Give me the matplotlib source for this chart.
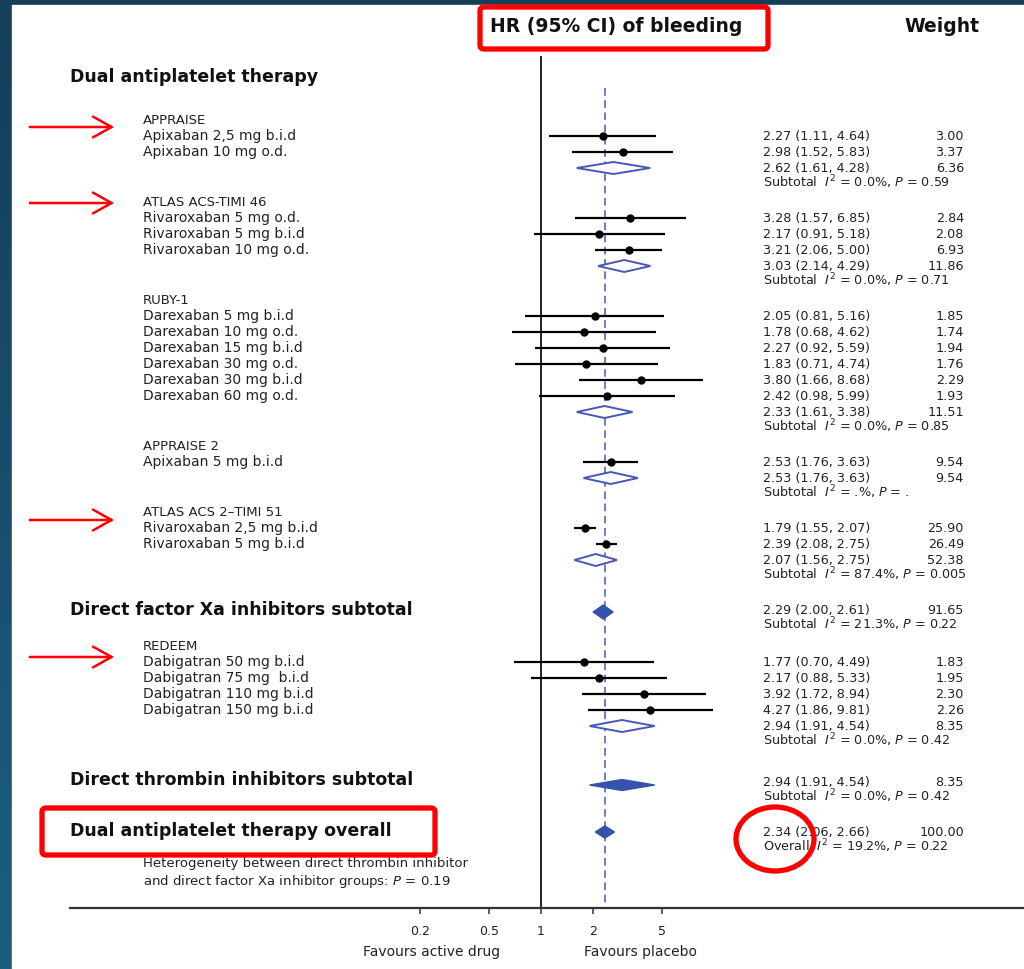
import matplotlib.pyplot as plt
from matplotlib.patches import Rectangle, FancyBboxPatch, Ellipse, FancyArrowPatch, Polygon
from matplotlib.transforms import blended_transform_factory
from matplotlib.ticker import NullLocator, FixedLocator, FixedFormatter
import numpy as np

plt.rcParams['font.family'] = ['DejaVu Sans']

# ---- data: hazard ratios of bleeding (HR, 95% CI) and weights ----
appraise_arms = ['Apixaban 2,5 mg b.i.d', 'Apixaban 10 mg o.d.']
appraise_hr = [2.27, 2.98]
appraise_lo = [1.11, 1.52]
appraise_hi = [4.64, 5.83]
appraise_wt = [3.00, 3.37]
appraise_pool = [2.62, 1.61, 4.28, 6.36]
appraise_het = ['0.0%', '0.59']

atlas46_arms = ['Rivaroxaban 5 mg o.d.', 'Rivaroxaban 5 mg b.i.d', 'Rivaroxaban 10 mg o.d.']
atlas46_hr = [3.28, 2.17, 3.21]
atlas46_lo = [1.57, 0.91, 2.06]
atlas46_hi = [6.85, 5.18, 5.00]
atlas46_wt = [2.84, 2.08, 6.93]
atlas46_pool = [3.03, 2.14, 4.29, 11.86]
atlas46_het = ['0.0%', '0.71']

ruby_arms = ['Darexaban 5 mg b.i.d', 'Darexaban 10 mg o.d.', 'Darexaban 15 mg b.i.d',
             'Darexaban 30 mg o.d.', 'Darexaban 30 mg b.i.d', 'Darexaban 60 mg o.d.']
ruby_hr = [2.05, 1.78, 2.27, 1.83, 3.80, 2.42]
ruby_lo = [0.81, 0.68, 0.92, 0.71, 1.66, 0.98]
ruby_hi = [5.16, 4.62, 5.59, 4.74, 8.68, 5.99]
ruby_wt = [1.85, 1.74, 1.94, 1.76, 2.29, 1.93]
ruby_pool = [2.33, 1.61, 3.38, 11.51]
ruby_het = ['0.0%', '0.85']

appraise2_arms = ['Apixaban 5 mg b.i.d']
appraise2_hr = [2.53]
appraise2_lo = [1.76]
appraise2_hi = [3.63]
appraise2_wt = [9.54]
appraise2_pool = [2.53, 1.76, 3.63, 9.54]
appraise2_het = ['.%', '.']

atlas51_arms = ['Rivaroxaban 2,5 mg b.i.d', 'Rivaroxaban 5 mg b.i.d']
atlas51_hr = [1.79, 2.39]
atlas51_lo = [1.55, 2.08]
atlas51_hi = [2.07, 2.75]
atlas51_wt = [25.90, 26.49]
atlas51_pool = [2.07, 1.56, 2.75, 52.38]
atlas51_het = ['87.4%', '0.005']

xa_pool = [2.29, 2.00, 2.61, 91.65]
xa_het = ['21.3%', '0.22']

redeem_arms = ['Dabigatran 50 mg b.i.d', 'Dabigatran 75 mg  b.i.d',
               'Dabigatran 110 mg b.i.d', 'Dabigatran 150 mg b.i.d']
redeem_hr = [1.77, 2.17, 3.92, 4.27]
redeem_lo = [0.70, 0.88, 1.72, 1.86]
redeem_hi = [4.49, 5.33, 8.94, 9.81]
redeem_wt = [1.83, 1.95, 2.30, 2.26]
redeem_pool = [2.94, 1.91, 4.54, 8.35]
redeem_het = ['0.0%', '0.42']

thrombin_pool = [2.94, 1.91, 4.54, 8.35]
thrombin_het = ['0.0%', '0.42']

overall_pool = [2.34, 2.06, 2.66, 100.00]
overall_het = ['19.2%', '0.22']

xa_trials = [
    ('APPRAISE', appraise_arms, appraise_hr, appraise_lo, appraise_hi, appraise_wt, appraise_pool, appraise_het),
    ('ATLAS ACS-TIMI 46', atlas46_arms, atlas46_hr, atlas46_lo, atlas46_hi, atlas46_wt, atlas46_pool, atlas46_het),
    ('RUBY-1', ruby_arms, ruby_hr, ruby_lo, ruby_hi, ruby_wt, ruby_pool, ruby_het),
    ('APPRAISE 2', appraise2_arms, appraise2_hr, appraise2_lo, appraise2_hi, appraise2_wt, appraise2_pool, appraise2_het),
    ('ATLAS ACS 2\u2013TIMI 51', atlas51_arms, atlas51_hr, atlas51_lo, atlas51_hi, atlas51_wt, atlas51_pool, atlas51_het),
]
thrombin_trials = [
    ('REDEEM', redeem_arms, redeem_hr, redeem_lo, redeem_hi, redeem_wt, redeem_pool, redeem_het),
]

ticks = [0.2, 0.5, 1, 2, 5]
tick_labels = ['0.2', '0.5', '1', '2', '5']

# ---- figure ----
W, H = 1024, 969
fig = plt.figure(figsize=(W / 100, H / 100), dpi=100)

# dark blue frame with a soft vertical gradient
bg = fig.add_axes([0, 0, 1, 1], zorder=-10)
grad = np.linspace(0, 1, 256).reshape(-1, 1)
top_c = np.array([0x13, 0x3f, 0x58]) / 255
bot_c = np.array([0x1c, 0x5e, 0x80]) / 255
img = top_c + grad[..., None] * (bot_c - top_c)
bg.imshow(img, aspect='auto', extent=[0, 1, 0, 1])
bg.add_patch(Rectangle((12 / W, 0), 1, 1 - 5 / H, color='white'))
bg.set_xlim(0, 1)
bg.set_ylim(0, 1)
bg.axis('off')


def fx(px):
    return px / W


def fy(py):
    return 1 - py / H


# forest axes: y in pixel rows from the top, x on log HR scale
ax = fig.add_axes([fx(70), fy(908), 1 - fx(70), (908 - 5) / H])
ax.set_xscale('log')
per_decade = 173
ax.set_xlim(10 ** ((70 - 541) / per_decade), 10 ** ((1024 - 541) / per_decade))
ax.set_ylim(908, 5)
ax.patch.set_alpha(0)
for s in ['top', 'left', 'right']:
    ax.spines[s].set_visible(False)
ax.spines['bottom'].set_color('#333333')
ax.spines['bottom'].set_linewidth(1.6)
ax.yaxis.set_visible(False)
ax.xaxis.set_major_locator(FixedLocator(ticks))
ax.xaxis.set_major_formatter(FixedFormatter(tick_labels))
ax.xaxis.set_minor_locator(NullLocator())
ax.tick_params(axis='x', length=4, width=1.2, color='#444444', pad=8,
               labelsize=9, labelcolor='#222222')

row_tf = blended_transform_factory(fig.transFigure, ax.transData)

TXT = '#222222'
DARK = '#111111'
BLUE_EDGE = '#4858b4'
BLUE_FILL = '#3552ad'
LINE = 16
body = 10
nums = 9.2
head = 12.5

label_x = fx(143)
head_x = fx(70)
est_x = fx(763)
wt_x = fx(964)


def est_text(hr, lo, hi):
    return f'{hr:.2f} ({lo:.2f}, {hi:.2f})'


def het_text(word, het):
    return f'{word}  $I^2$ = {het[0]}, $P$ = {het[1]}'


def diamond(pool, y, h, filled):
    hr, lo, hi = pool[0], pool[1], pool[2]
    verts = [(lo, y), (hr, y - h / 2), (hi, y), (hr, y + h / 2)]
    if filled:
        p = Polygon(verts, closed=True, facecolor=BLUE_FILL, edgecolor=BLUE_FILL, lw=1.0, zorder=4)
    else:
        p = Polygon(verts, closed=True, facecolor='white', edgecolor=BLUE_EDGE, lw=1.4, zorder=4)
    ax.add_patch(p)


def pooled_text(pool, het, y, word='Subtotal'):
    ax.text(est_x, y, est_text(pool[0], pool[1], pool[2]), transform=row_tf,
            fontsize=nums, color=TXT, va='center', ha='left')
    ax.text(wt_x, y, f'{pool[3]:.2f}', transform=row_tf,
            fontsize=nums, color=TXT, va='center', ha='right')
    ax.text(est_x, y + 14, het_text(word, het), transform=row_tf,
            fontsize=nums, color=TXT, va='center', ha='left')


def draw_trial(trial, y):
    name, arms, hr, lo, hi, wt, pool, het = trial
    ax.text(label_x, y, name, transform=row_tf, fontsize=body - 0.5, color=TXT, va='center')
    y += LINE
    for arm, h, l, u, w in zip(arms, hr, lo, hi, wt):
        ax.plot([l, u], [y, y], color='black', lw=1.6, zorder=3, solid_capstyle='butt')
        ax.plot([h], [y], marker='o', ms=5, color='black', zorder=5)
        ax.text(label_x, y, arm, transform=row_tf, fontsize=body, color=TXT, va='center')
        ax.text(est_x, y, est_text(h, l, u), transform=row_tf,
                fontsize=nums, color=TXT, va='center')
        ax.text(wt_x, y, f'{w:.2f}', transform=row_tf,
                fontsize=nums, color=TXT, va='center', ha='right')
        y += LINE
    diamond(pool, y, 12, False)
    pooled_text(pool, het, y)
    return y + 14


# reference lines
ax.plot([1, 1], [57, 908], color='#222222', lw=1.4, zorder=2)
ax.plot([overall_pool[0]] * 2, [88, 908], color=BLUE_EDGE, lw=1.1,
        dashes=(5, 3), zorder=2)

# header row
fig.text(fx(616), fy(27), 'HR (95% CI) of bleeding', fontsize=13.5, fontweight='bold',
         ha='center', va='center', color=DARK)
fig.text(fx(942), fy(27), 'Weight', fontsize=13.5, fontweight='bold',
         ha='center', va='center', color=DARK)

ax.text(head_x, 77, 'Dual antiplatelet therapy', transform=row_tf, fontsize=head,
        fontweight='bold', color=DARK, va='center')

y = 120
for trial in xa_trials:
    y = draw_trial(trial, y) + 20

# direct factor Xa subtotal
y += 16
ax.text(head_x, y, 'Direct factor Xa inhibitors subtotal', transform=row_tf, fontsize=head,
        fontweight='bold', color=DARK, va='center')
diamond(xa_pool, y + 2, 14, True)
pooled_text(xa_pool, xa_het, y)
y += 14 + 22

for trial in thrombin_trials:
    y = draw_trial(trial, y)

# direct thrombin subtotal
y += 40
ax.text(head_x, y, 'Direct thrombin inhibitors subtotal', transform=row_tf, fontsize=head,
        fontweight='bold', color=DARK, va='center')
diamond(thrombin_pool, y + 5, 11, True)
pooled_text(thrombin_pool, thrombin_het, y + 2)
y += 16 + 35

# overall
ax.text(head_x, y, 'Dual antiplatelet therapy overall', transform=row_tf, fontsize=head,
        fontweight='bold', color=DARK, va='center')
diamond(overall_pool, y + 1, 12, True)
pooled_text(overall_pool, overall_het, y + 1, word='Overall')
ax.text(label_x, y + 42.5, 'Heterogeneity between direct thrombin inhibitor\n'
        'and direct factor Xa inhibitor groups: $P$ = 0.19', transform=row_tf,
        fontsize=body - 0.5, color=TXT, va='center', linespacing=1.25)

# favours labels under the axis
fig.text(fx(432), fy(952), 'Favours active drug', fontsize=body, ha='center', va='center', color=TXT)
fig.text(fx(641), fy(952), 'Favours placebo', fontsize=body, ha='center', va='center', color=TXT)

# red highlight marks
RED = '#ff0000'
ov = fig.add_axes([0, 0, 1, 1], zorder=20)
ov.set_xlim(0, W)
ov.set_ylim(H, 0)
ov.axis('off')
ov.patch.set_alpha(0)
ov.add_patch(FancyBboxPatch((480, 7), 288, 42, boxstyle='round,pad=0,rounding_size=4',
                            fill=False, edgecolor=RED, lw=3.8))
ov.add_patch(FancyBboxPatch((42, 808), 393, 47, boxstyle='round,pad=0,rounding_size=4',
                            fill=False, edgecolor=RED, lw=3.8))
ov.add_patch(Ellipse((775, 839), 78, 64, fill=False, edgecolor=RED, lw=3.8))
for ay in [127, 203, 520, 657]:
    ov.add_patch(FancyArrowPatch((27, ay), (117, ay), arrowstyle='->,head_length=9,head_width=5',
                                 color=RED, lw=1.8, mutation_scale=1.5))

fig.savefig('out.png', dpi=100)
